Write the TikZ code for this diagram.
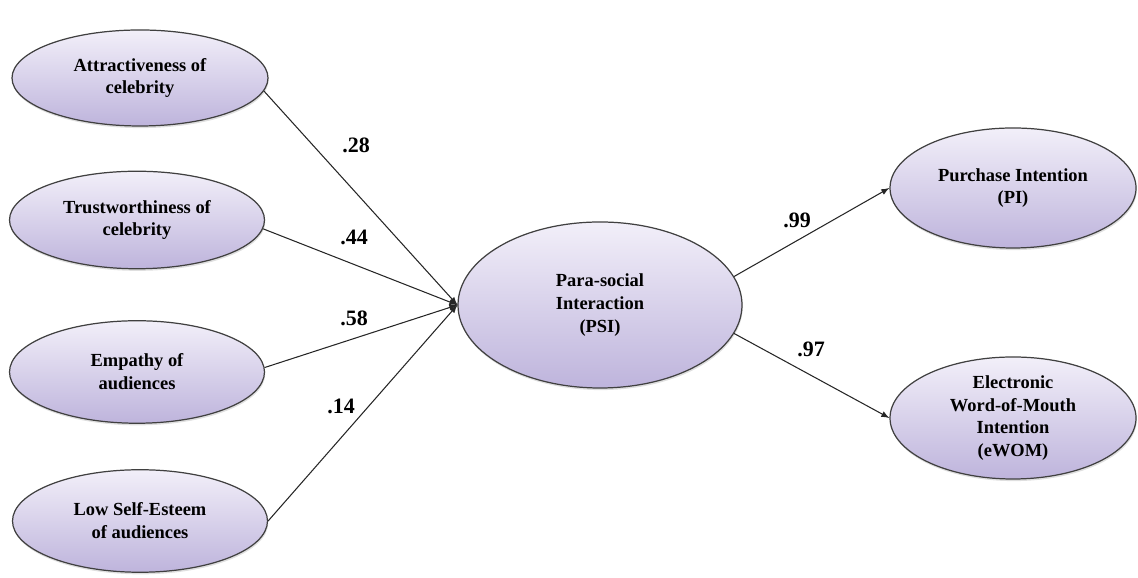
\documentclass[tikz,border=0pt]{standalone}
\usepackage{fontspec}
\setmainfont{Liberation Serif}
\usetikzlibrary{shapes.geometric,shadows}
\definecolor{lavtop}{RGB}{242,239,249}
\definecolor{lavbot}{RGB}{190,180,220}
\begin{document}
\begin{tikzpicture}[>=latex,
  construct/.style={ellipse,draw=black!75,line width=0.7pt,top color=lavtop,bottom color=lavbot,
    drop shadow={opacity=0.25,shadow xshift=0.4pt,shadow yshift=-1.2pt},
    align=center,inner sep=0pt,font=\fontsize{10.5}{13}\selectfont\bfseries},
  path/.style={->,draw=black!85,line width=0.6pt},
  coef/.style={font=\fontsize{12.5}{14}\selectfont\bfseries}]
  \useasboundingbox (0,0) rectangle (22.76,11.56);

  % Antecedents (left column)
  \node[construct,minimum width=5.12cm,minimum height=1.92cm] (att) at (2.80,10.00) {Attractiveness of\\celebrity};
  \node[construct,minimum width=5.10cm,minimum height=1.95cm] (tru) at (2.74,7.16) {Trustworthiness of\\celebrity};
  \node[construct,minimum width=5.10cm,minimum height=2.05cm] (emp) at (2.74,4.12) {Empathy of\\audiences};
  \node[construct,minimum width=5.10cm,minimum height=2.05cm] (low) at (2.80,1.14) {Low Self-Esteem\\of audiences};

  % Mediator
  \node[construct,minimum width=5.68cm,minimum height=3.32cm] (psi) at (12.00,5.46) {Para-social\\Interaction\\(PSI)};

  % Outcomes (right column)
  \node[construct,minimum width=4.92cm,minimum height=2.40cm] (pi) at (20.26,7.80) {Purchase Intention\\(PI)};
  \node[construct,minimum width=4.92cm,minimum height=2.44cm] (ewom) at (20.26,3.20) {Electronic\\Word-of-Mouth\\Intention\\(eWOM)};

  % Paths
  \draw[path] (att.-6) -- (psi.west);
  \draw[path] (tru.-4) -- (psi.west);
  \draw[path] (emp.2) -- (psi.west);
  \draw[path] (low.east) -- (psi.west);
  \draw[path] (psi.12) -- (pi.west);
  \draw[path] (psi.-12) -- (ewom.west);

  % Path coefficients
  \node[coef] (c1) at (7.12,8.66) {.28};
  \node[coef] (c2) at (7.08,6.82) {.44};
  \node[coef] (c3) at (7.08,5.20) {.58};
  \node[coef] (c4) at (6.82,3.44) {.14};
  \node[coef] (c5) at (15.94,7.16) {.99};
  \node[coef] (c6) at (16.22,4.58) {.97};
\end{tikzpicture}
\end{document}
